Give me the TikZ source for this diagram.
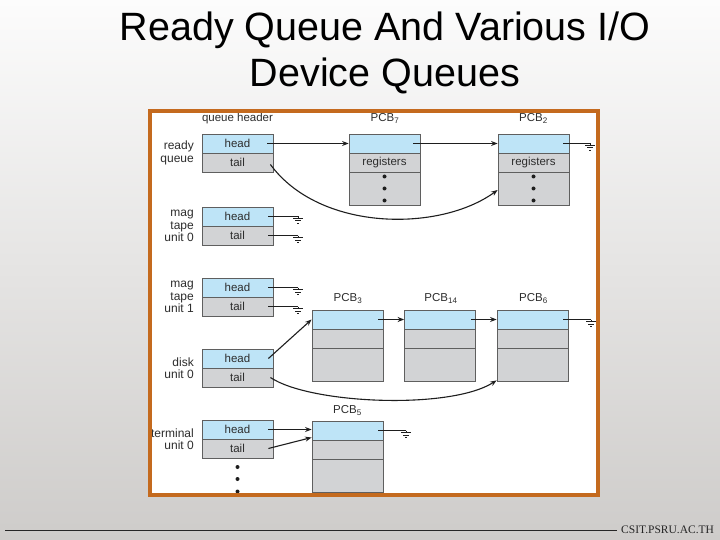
\documentclass[tikz,border=0pt]{standalone}
\usepackage{fontspec}
\setmainfont{Liberation Sans}
\newfontfamily\footfont{Liberation Serif}
\usetikzlibrary{arrows.meta}
\definecolor{cellblue}{RGB}{190,228,247}
\definecolor{cellgray}{RGB}{210,211,213}
\definecolor{cellline}{RGB}{95,95,95}
\definecolor{frameorange}{RGB}{196,106,30}
\definecolor{txtgray}{RGB}{45,45,45}
\definecolor{bgtop}{RGB}{252,252,252}
\definecolor{bgbottom}{RGB}{206,204,202}
\definecolor{wirecol}{RGB}{30,30,30}
\begin{document}
\begin{tikzpicture}[x=1pt,y=-1pt,
  cell/.style={rectangle,draw=cellline,line width=0.8pt,minimum width=71pt,minimum height=19pt,inner sep=0pt,font=\fontsize{11.5}{12}\selectfont,text=txtgray},
  hcell/.style={cell,fill=cellblue},
  gcell/.style={cell,fill=cellgray},
  bigcell/.style={gcell,minimum height=33pt},
  lbl/.style={font=\fontsize{12}{12.5}\selectfont,text=txtgray,inner sep=0pt,align=right,anchor=east},
  pcblbl/.style={font=\fontsize{11.5}{12}\selectfont,text=txtgray,inner sep=0pt},
  wire/.style={draw=wirecol,line width=1.1pt},
  arr/.style={wire,-{Stealth[length=6.5pt,width=5pt]}},
  gnd/.pic={\draw[wirecol,line width=1pt] (0,0)--(0,2) (-5,2)--(5,2) (-3,4.5)--(3,4.5) (-1,7)--(1,7);},
  dot/.style={fill=wirecol},
]
\useasboundingbox (0,0) rectangle (720,540);
\shade[top color=bgtop,bottom color=bgbottom] (0,0) rectangle (720,540);

% title
\node[anchor=base,font=\fontsize{39.5}{40}\selectfont,inner sep=0pt] (t1) at (385,41) {Ready Queue And Various I/O};
\node[anchor=base,font=\fontsize{39.5}{40}\selectfont,inner sep=0pt] (t2) at (385,87) {Device Queues};

% footer
\node[anchor=west,font=\footfont\fontsize{11.5}{12}\selectfont,text=black!85,inner sep=0pt] (foot) at (621,530) {CSIT.PSRU.AC.TH};
\draw[black!85,line width=1pt] (5,530) -- ([xshift=-4pt]foot.west);

% frame background
\fill[white] (150,111) rectangle (597.5,495);

% header label
\node[pcblbl] (qh) at (237.5,118.5) {queue header};

% queue headers
\node[hcell] (rh) at (237.5,143.5) {head};
\node[gcell] (rt) at (237.5,162.5) {tail};
\node[lbl] (rl) at (194,153) {ready\\queue};

\node[hcell] (m0h) at (237.5,216.5) {head};
\node[gcell] (m0t) at (237.5,235.5) {tail};
\node[lbl] (m0l) at (194,226) {mag\\tape\\unit 0};

\node[hcell] (m1h) at (237.5,287.5) {head};
\node[gcell] (m1t) at (237.5,306.5) {tail};
\node[lbl] (m1l) at (194,297) {mag\\tape\\unit 1};

\node[hcell] (dh) at (237.5,358.5) {head};
\node[gcell] (dt) at (237.5,377.5) {tail};
\node[lbl] (dl) at (194,368) {disk\\unit 0};

\node[hcell] (th) at (237.5,429.5) {head};
\node[gcell] (tt) at (237.5,448.5) {tail};
\node[lbl] (tl) at (194,439) {terminal\\unit 0};

\foreach \yy in {467,479,491.5} \fill[dot] (237.5,\yy) circle (2);

% PCB7 and PCB2
\node[pcblbl] (p7l) at (385,118.5) {PCB\textsubscript{7}};
\node[hcell] (p7a) at (384.5,143.5) {};
\node[gcell] (p7b) at (384.5,162.5) {registers};
\node[bigcell] (p7c) at (384.5,188.5) {};
\foreach \d in {-12,0,12} \fill[dot] (p7c.center) ++(0,\d) circle (2);

\node[pcblbl] (p2l) at (533.5,118.5) {PCB\textsubscript{2}};
\node[hcell] (p2a) at (533.5,143.5) {};
\node[gcell] (p2b) at (533.5,162.5) {registers};
\node[bigcell] (p2c) at (533.5,188.5) {};
\foreach \d in {-12,0,12} \fill[dot] (p2c.center) ++(0,\d) circle (2);

% PCB3, PCB14, PCB6
\node[pcblbl] (p3l) at (348,298.5) {PCB\textsubscript{3}};
\node[hcell] (p3a) at (347.5,319.5) {};
\node[gcell] (p3b) at (347.5,338.5) {};
\node[bigcell] (p3c) at (347.5,364.5) {};

\node[pcblbl] (p14l) at (441,298.5) {PCB\textsubscript{14}};
\node[hcell] (p14a) at (440,319.5) {};
\node[gcell] (p14b) at (440,338.5) {};
\node[bigcell] (p14c) at (440,364.5) {};

\node[pcblbl] (p6l) at (533.5,298.5) {PCB\textsubscript{6}};
\node[hcell] (p6a) at (532.5,319.5) {};
\node[gcell] (p6b) at (532.5,338.5) {};
\node[bigcell] (p6c) at (532.5,364.5) {};

% PCB5
\node[pcblbl] (p5l) at (347.5,410.5) {PCB\textsubscript{5}};
\node[hcell] (p5a) at (347.5,430.5) {};
\node[gcell] (p5b) at (347.5,449.5) {};
\node[bigcell] (p5c) at (347.5,475.5) {};

% connectors: ready queue
\draw[arr] ([xshift=-6pt]rh.east) -- (p7a.west);
\draw[arr] ([xshift=-7pt]p7a.east) -- (p2a.west);
\draw[wire] ([xshift=-6pt]p2a.east) -- ++(27,0) pic {gnd};
\draw[arr] ([xshift=-3pt,yshift=-2pt]rt.east) .. controls (320,232) and (440,232) .. ([yshift=-1.5pt]p2c.west);

% mag tapes
\draw[wire] ([xshift=-5pt]m0h.east) -- ++(30,0) pic {gnd};
\draw[wire] ([xshift=-5pt]m0t.east) -- ++(30,0) pic {gnd};
\draw[wire] ([xshift=-5pt]m1h.east) -- ++(30,0) pic {gnd};
\draw[wire] ([xshift=-5pt]m1t.east) -- ++(30,0) pic {gnd};

% disk
\draw[arr] ([xshift=-5pt]dh.east) -- (p3a.west);
\draw[arr] ([xshift=-5pt]p3a.east) -- (p14a.west);
\draw[arr] ([xshift=-5pt]p14a.east) -- (p6a.west);
\draw[wire] ([xshift=-5pt]p6a.east) -- ++(28,0) pic {gnd};
\draw[arr] ([xshift=-3pt]dt.east) .. controls (310,404) and (450,410) .. ([yshift=1pt]p6c.south west);

% terminal
\draw[arr] ([xshift=-5pt]th.east) -- (p5a.west |- th.east);
\draw[arr] ([xshift=-5pt]tt.east) -- ([yshift=-7pt]p5a.west);
\draw[wire] ([xshift=-5pt]p5a.east) -- ++(28,0) pic {gnd};

% frame
\draw[frameorange,line width=4pt] (150,111) rectangle (597.5,495);
\end{tikzpicture}
\end{document}
